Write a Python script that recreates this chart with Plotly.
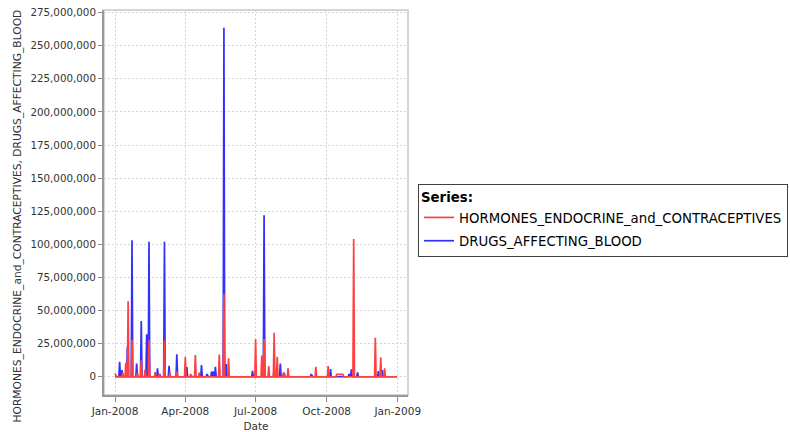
import pandas as pd
import plotly.graph_objects as go

# Daily volumes for 2008; days not listed carry zero.
hormones_dates = [
    "2008-01-01", "2008-01-11", "2008-01-15", "2008-01-18", "2008-01-23",
    "2008-01-30", "2008-02-04", "2008-02-09", "2008-02-14", "2008-02-22",
    "2008-02-27", "2008-03-05", "2008-03-12", "2008-03-21", "2008-04-01",
    "2008-04-08", "2008-04-14", "2008-04-19", "2008-05-15", "2008-05-21",
    "2008-05-27", "2008-07-01", "2008-07-09", "2008-07-12", "2008-07-18",
    "2008-07-25", "2008-07-29", "2008-08-06", "2008-08-12", "2008-09-17",
    "2008-10-03", "2008-10-14", "2008-10-15", "2008-10-16", "2008-10-17",
    "2008-10-18", "2008-10-19", "2008-10-20", "2008-10-21", "2008-10-22",
    "2008-11-05", "2008-12-03", "2008-12-10", "2008-12-15",
]
hormones_values = [
    2_500_000, 3_000_000, 10_500_000, 57_000_000, 28_000_000,
    3_000_000, 12_500_000, 5_500_000, 28_000_000, 3_500_000,
    2_000_000, 27_700_000, 3_000_000, 4_000_000, 15_000_000,
    2_000_000, 16_400_000, 3_000_000, 16_700_000, 62_500_000,
    14_000_000, 28_200_000, 16_000_000, 28_500_000, 8_000_000,
    33_300_000, 15_000_000, 3_000_000, 6_300_000, 7_500_000,
    8_000_000, 1_800_000, 1_800_000, 1_800_000, 1_800_000,
    1_800_000, 1_800_000, 1_800_000, 1_800_000, 1_800_000,
    104_000_000, 29_500_000, 14_600_000, 6_300_000,
]

blood_dates = [
    "2008-01-07", "2008-01-10", "2008-01-17", "2008-01-23", "2008-01-29",
    "2008-02-04", "2008-02-11", "2008-02-14", "2008-02-25", "2008-02-28",
    "2008-03-05", "2008-03-11", "2008-03-21", "2008-04-03", "2008-04-22",
    "2008-04-29", "2008-05-05", "2008-05-07", "2008-05-10", "2008-05-21",
    "2008-05-24", "2008-06-27", "2008-07-12", "2008-07-25", "2008-08-02",
    "2008-08-07", "2008-09-11", "2008-10-06", "2008-10-30", "2008-11-02",
    "2008-11-10", "2008-12-07", "2008-12-12",
]
blood_values = [
    11_300_000, 5_000_000, 22_700_000, 103_000_000, 10_000_000,
    42_000_000, 32_000_000, 102_000_000, 6_300_000, 2_000_000,
    102_000_000, 8_300_000, 17_000_000, 7_300_000, 8_800_000,
    2_000_000, 3_800_000, 4_000_000, 7_500_000, 263_500_000,
    9_600_000, 4_500_000, 122_000_000, 6_000_000, 10_000_000,
    3_000_000, 2_000_000, 5_800_000, 2_000_000, 5_600_000,
    3_300_000, 4_300_000, 5_000_000,
]

x_ticks = ["2008-01-01", "2008-04-01", "2008-07-01", "2008-10-01", "2009-01-01"]
x_tick_labels = ["Jan-2008", "Apr-2008", "Jul-2008", "Oct-2008", "Jan-2009"]
y_ticks = list(range(0, 275_000_001, 25_000_000))

days = pd.date_range("2008-01-01", "2008-12-31", freq="D")


def daily(dates, values):
    s = pd.Series(values, index=pd.to_datetime(dates))
    return s.reindex(days, fill_value=0)


hormones = daily(hormones_dates, hormones_values)
blood = daily(blood_dates, blood_values)

FONT = "DejaVu Sans"
TEXT = "#333333"

fig = go.Figure()
# blood drawn first so the hormones line sits on top
fig.add_trace(go.Scatter(
    x=blood.index, y=blood.values, mode="lines",
    name="DRUGS_AFFECTING_BLOOD", legendgroup="blood", legendrank=2,
    line=dict(color="#3030ff", width=1.7),
))
fig.add_trace(go.Scatter(
    x=hormones.index, y=hormones.values, mode="lines",
    name="HORMONES_ENDOCRINE_and_CONTRACEPTIVES", legendgroup="hormones", legendrank=1,
    line=dict(color="#ff4040", width=1.7),
))

# light plot outline on top and right
fig.add_shape(type="rect", xref="paper", yref="paper", x0=0, y0=0, x1=1, y1=1,
              line=dict(color="#c8c8c8", width=1.5), layer="below")

# rotated range-axis label, placed left of the tick labels
fig.add_annotation(
    text="HORMONES_ENDOCRINE_and_CONTRACEPTIVES, DRUGS_AFFECTING_BLOOD",
    textangle=-90, xref="paper", yref="paper",
    x=(17.5 - 104) / 304, y=(395 - 216) / 385,
    xanchor="center", yanchor="middle", showarrow=False,
    font=dict(family=FONT, size=10.7, color=TEXT),
)

fig.update_layout(
    width=790, height=432,
    margin=dict(l=104, r=382, t=10, b=37, autoexpand=False),
    paper_bgcolor="white", plot_bgcolor="white",
    font=dict(family=FONT, color=TEXT),
    showlegend=True,
    legend=dict(
        title=dict(text="<b>Series:</b>", font=dict(family=FONT, size=13.3, color="#000000")),
        font=dict(family=FONT, size=13.3, color="#000000"),
        traceorder="grouped", tracegroupgap=3,
        x=(418 - 104) / 304, xanchor="left", y=(395 - 184) / 385, yanchor="top",
        bordercolor="#404040", borderwidth=1, bgcolor="white",
    ),
    xaxis=dict(
        type="date",
        range=["2007-12-17 18:00", "2009-01-14 07:00"],
        tickvals=x_ticks, ticktext=x_tick_labels,
        tickfont=dict(family=FONT, size=10.5, color=TEXT),
        ticks="outside", ticklen=5, tickcolor="#888888",
        showline=True, linecolor="#999999", linewidth=2,
        showgrid=True, gridcolor="#d4d4d4", griddash="2px,2px", gridwidth=1,
        zeroline=False,
        title=dict(text="Date", font=dict(family=FONT, size=10.5, color=TEXT), standoff=8),
    ),
    yaxis=dict(
        range=[-13_800_000, 277_000_000],
        tickvals=y_ticks, tickformat=",d",
        tickfont=dict(family=FONT, size=10.3, color=TEXT),
        ticks="outside", ticklen=4, tickcolor="#888888",
        showline=True, linecolor="#999999", linewidth=2,
        showgrid=True, gridcolor="#d4d4d4", griddash="2px,2px", gridwidth=1,
        zeroline=False,
    ),
)

fig.write_html("out.html")
